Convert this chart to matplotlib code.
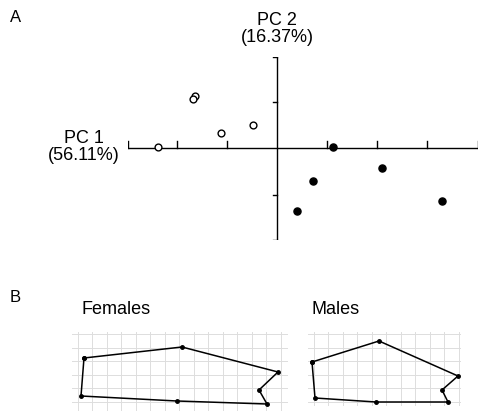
import matplotlib
matplotlib.use("Agg")
import matplotlib.pyplot as plt
import numpy as np

plt.rcParams['font.family'] = ['Liberation Sans', 'DejaVu Sans']

# PCA scores
female_pc1 = [-2.38, -1.64, -1.68, -1.12, -0.48]
female_pc2 = [0.02, 1.12, 1.05, 0.32, 0.49]
male_pc1 = [1.12, 0.72, 0.40, 2.10, 3.30]
male_pc2 = [0.02, -0.71, -1.35, -0.43, -1.14]
xticks = [-2.98, -2, -1, 1, 2, 3, 4.02]
yticks = [-1.97, -1, 1, 1.96]

# landmark outlines (pixel units of the deformation grid panel)
fem_x = [84, 182, 278, 259, 267, 177, 81]
fem_y = [358, 347, 372, 390, 404, 401, 396]
mal_x = [312, 379, 458, 442, 448, 376, 315]
mal_y = [362, 341, 376, 390, 402, 402, 398]

W, H = 479, 413
fig = plt.figure(figsize=(W/100, H/100), dpi=100)

ax = fig.add_axes([128/W, (H-240)/H, 350/W, 183/H])
ax.set_xlim(-2.98, 4.02); ax.set_ylim(-1.97, 1.96)
ax.axis('off')
ax.plot([-2.98, 4.02], [0, 0], color='black', lw=1, solid_capstyle='butt')
ax.plot([0, 0], [-1.97, 1.96], color='black', lw=1, solid_capstyle='butt')
dx = 7/50; dy = 7/46.5
for t in xticks:
    ax.plot([t, t], [0, dy], color='black', lw=1)
for t in yticks:
    ax.plot([-dx*0.6, 0], [t, t], color='black', lw=1)
ax.scatter(female_pc1, female_pc2, s=24, facecolors='white', edgecolors='black', linewidths=1, zorder=3)
ax.scatter(male_pc1, male_pc2, s=26, color='black', zorder=3)

fig.text(10/W, 1-17/H, 'A', fontsize=12, va='center')
fig.text(10/W, 1-298/H, 'B', fontsize=12, va='center')
fig.text(277/W, 1-29/H, 'PC 2\n(16.37%)', fontsize=13, ha='center', va='center', linespacing=1.0)
fig.text(84/W, 1-147/H, 'PC 1\n(56.11%)', fontsize=13, ha='center', va='center', linespacing=1.0)

bx = fig.add_axes([0, 0, 1, 1])
bx.set_xlim(0, W); bx.set_ylim(H, 0); bx.axis('off')
for (x0, x1, y0, y1) in [(72, 287, 332, 410), (308, 460, 332, 405)]:
    for gx in np.arange(x0 + 6, x1, 14.5):
        bx.plot([gx, gx], [y0, y1], color='#dddddd', lw=0.7)
    for gy in np.arange(y0 + 2, y1, 13.5):
        bx.plot([x0, x1], [gy, gy], color='#dddddd', lw=0.7)
for xs, ys in [(fem_x, fem_y), (mal_x, mal_y)]:
    bx.plot(xs + xs[:1], ys + ys[:1], color='black', lw=1.1, marker='o', ms=2.5)
bx.text(82, 309, 'Females', fontsize=13, va='center')
bx.text(312, 309, 'Males', fontsize=13, va='center')

fig.savefig('out.png', dpi=100)
